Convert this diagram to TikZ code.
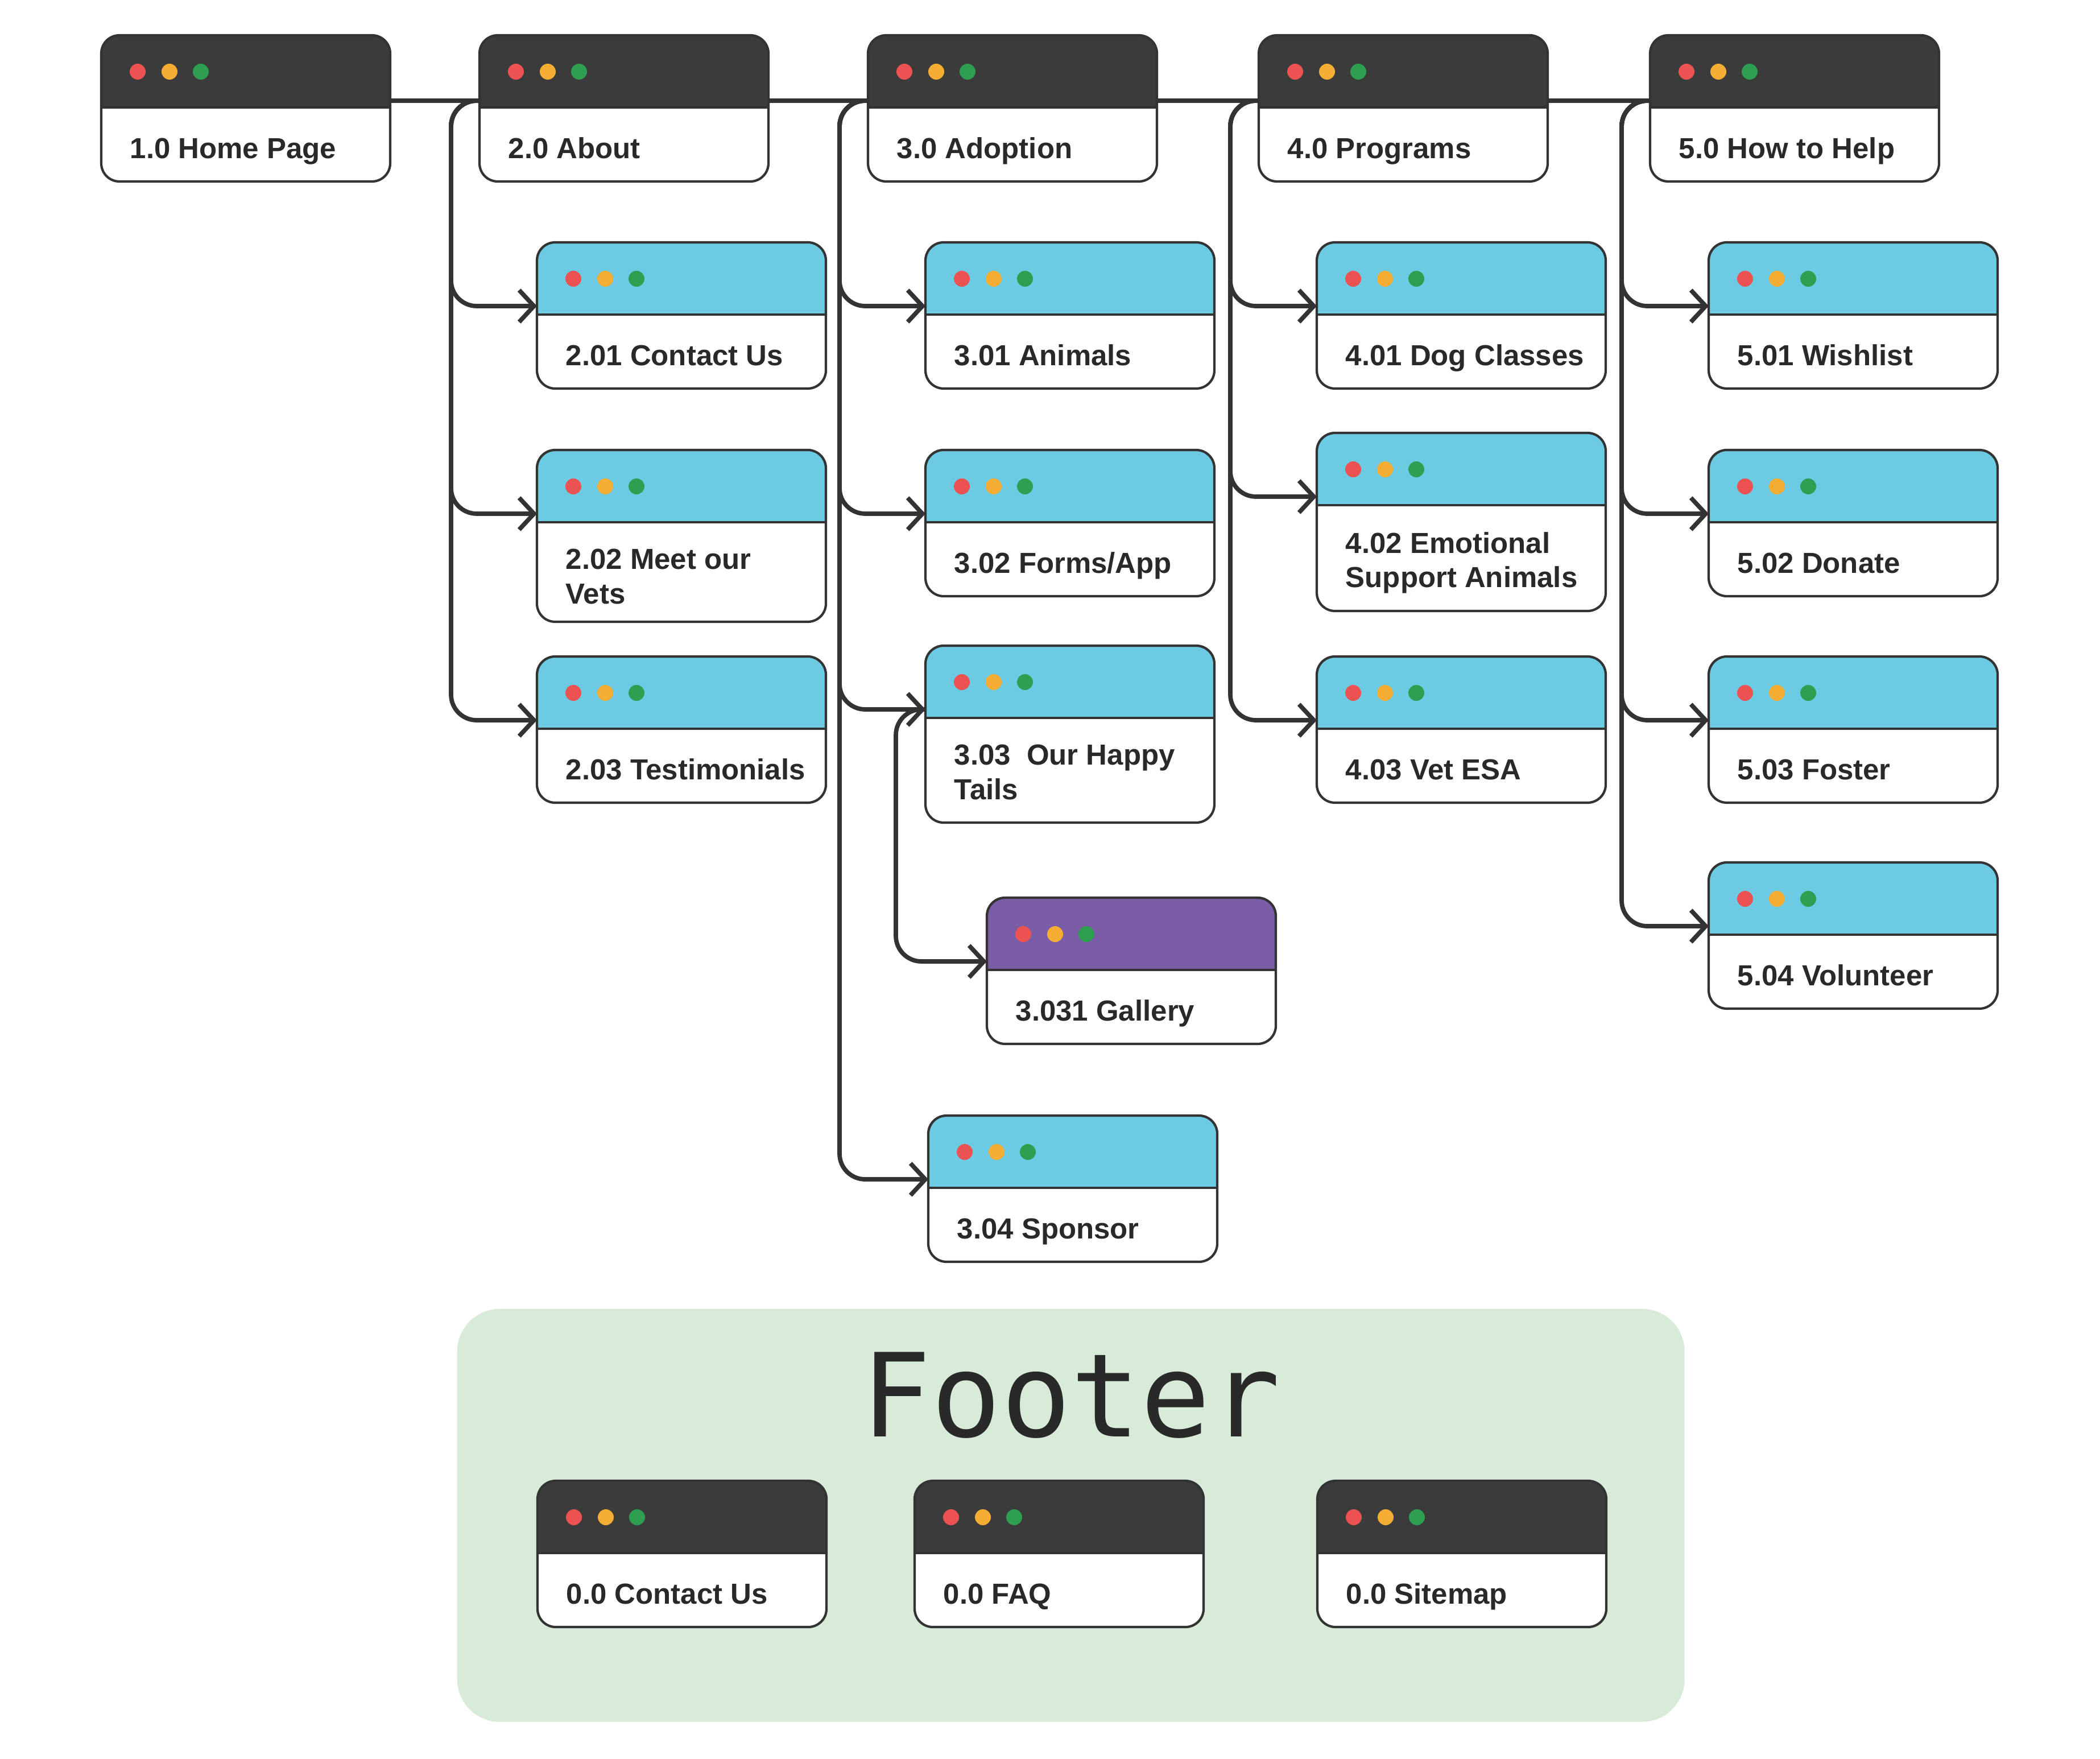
\documentclass[tikz,border=0pt]{standalone}
\usepackage{fontspec}
\setmainfont{Liberation Sans}
\newfontfamily\footerfont{DejaVu Sans Mono}
\usetikzlibrary{arrows.meta,backgrounds,positioning}
\definecolor{ink}{HTML}{333333}
\definecolor{barDark}{HTML}{3B3B3B}
\definecolor{barBlue}{HTML}{6CCAE3}
\definecolor{barPurple}{HTML}{7B5CA6}
\definecolor{footerGreen}{HTML}{D8EBD8}
\definecolor{dotRed}{HTML}{EC5252}
\definecolor{dotOrange}{HTML}{F6AD33}
\definecolor{dotGreen}{HTML}{2E9E50}
\tikzstyle{pagebox}=[rectangle, anchor=north west, minimum width=5.08cm,
  inner sep=0pt, outer sep=0pt]
\tikzstyle{pageframe}=[draw=ink, line width=1.2pt, rounded corners=3.2mm]
\tikzstyle{pagetext}=[anchor=north west, inner sep=0pt, align=left,
  text=ink!80!black, font=\fontsize{14.5pt}{17.3pt}\selectfont\bfseries,
  execute at begin node=\strut]
\tikzstyle{wire}=[ink, line width=2.2pt]
\tikzstyle{branch}=[wire, rounded corners=4.5mm,
  -{Straight Barb[length=2.6mm,width=5.6mm]}]

% one browser window: name, x, y (down), height, bar colour, text
\newcommand{\webpage}[6]{%
  \node[pagebox, minimum height=#4cm] (#1) at (#2,-#3) {};
  \begin{scope}
    \clip[rounded corners=3.2mm] (#1.north west) rectangle (#1.south east);
    \fill[white] (#1.north west) rectangle (#1.south east);
    \fill[#5] (#1.north west) rectangle ([yshift=-12.7mm]#1.north east);
  \end{scope}
  \draw[pageframe] ([yshift=-12.7mm]#1.north west) -- ([yshift=-12.7mm]#1.north east);
  \draw[pageframe] (#1.north west) rectangle (#1.south east);
  \fill[dotRed] ([shift={(6.4mm,-6.4mm)}]#1.north west) circle (1.4mm);
  \fill[dotOrange] ([shift={(12mm,-6.4mm)}]#1.north west) circle (1.4mm);
  \fill[dotGreen] ([shift={(17.5mm,-6.4mm)}]#1.north west) circle (1.4mm);
  \node[pagetext] (#1-text) at ([shift={(5mm,-17.34mm)}]#1.north west) {#6};
}

\begin{document}
\begin{tikzpicture}
  \useasboundingbox (0,0) rectangle (36.92,-30.92);

  % footer panel
  \node[rectangle, anchor=north west, fill=footerGreen, rounded corners=7.5mm,
    minimum width=21.58cm, minimum height=7.26cm, inner sep=0pt] (footer) at (8.03,-23.00) {};
  \node[anchor=base, inner sep=0pt, text=ink!80!black,
    font=\footerfont\fontsize{58pt}{60pt}\selectfont] (footer-title) at (18.83,-25.25) {Footer};

  % top level
  \webpage{home}{1.78}{0.62}{2.57}{barDark}{1.0 Home Page}
  \webpage{about}{8.43}{0.62}{2.57}{barDark}{2.0 About}
  \webpage{adopt}{15.26}{0.62}{2.57}{barDark}{3.0 Adoption}
  \webpage{programs}{22.13}{0.62}{2.57}{barDark}{4.0 Programs}
  \webpage{help}{29.01}{0.62}{2.57}{barDark}{5.0 How to Help}

  % about
  \webpage{contact}{9.44}{4.26}{2.57}{barBlue}{2.01 Contact Us}
  \webpage{vets}{9.44}{7.91}{3.02}{barBlue}{2.02 Meet our\\Vets}
  \webpage{testimonials}{9.44}{11.54}{2.57}{barBlue}{2.03 Testimonials}

  % adoption
  \webpage{animals}{16.27}{4.26}{2.57}{barBlue}{3.01 Animals}
  \webpage{forms}{16.27}{7.91}{2.57}{barBlue}{3.02 Forms/App}
  \webpage{tails}{16.27}{11.35}{3.11}{barBlue}{3.03\ \ Our Happy\\Tails}
  \webpage{gallery}{17.35}{15.78}{2.57}{barPurple}{3.031 Gallery}
  \webpage{sponsor}{16.32}{19.61}{2.57}{barBlue}{3.04 Sponsor}

  % programs
  \webpage{classes}{23.15}{4.26}{2.57}{barBlue}{4.01 Dog Classes}
  \webpage{esa}{23.15}{7.61}{3.13}{barBlue}{4.02 Emotional\\Support Animals}
  \webpage{vetesa}{23.15}{11.54}{2.57}{barBlue}{4.03 Vet ESA}

  % how to help
  \webpage{wishlist}{30.04}{4.26}{2.57}{barBlue}{5.01 Wishlist}
  \webpage{donate}{30.04}{7.91}{2.57}{barBlue}{5.02 Donate}
  \webpage{foster}{30.04}{11.54}{2.57}{barBlue}{5.03 Foster}
  \webpage{volunteer}{30.04}{15.16}{2.57}{barBlue}{5.04 Volunteer}

  % footer pages
  \webpage{fcontact}{9.45}{26.03}{2.57}{barDark}{0.0 Contact Us}
  \webpage{faq}{16.08}{26.03}{2.57}{barDark}{0.0 FAQ}
  \webpage{sitemap}{23.16}{26.03}{2.57}{barDark}{0.0 Sitemap}

  \begin{scope}[on background layer]
    \draw[wire] ([yshift=-11.5mm]home.north east) -- ([yshift=-11.5mm]help.north west);
  \end{scope}

  \draw[branch] ([yshift=-11.5mm]about.north west) -- ++(-5mm,0) |- ([yshift=-11.2mm]contact.north west);
  \draw[branch] ([yshift=-11.5mm]about.north west) -- ++(-5mm,0) |- ([yshift=-11.2mm]vets.north west);
  \draw[branch] ([yshift=-11.5mm]about.north west) -- ++(-5mm,0) |- ([yshift=-11.2mm]testimonials.north west);

  \draw[branch] ([yshift=-11.5mm]adopt.north west) -- ++(-5mm,0) |- ([yshift=-11.2mm]animals.north west);
  \draw[branch] ([yshift=-11.5mm]adopt.north west) -- ++(-5mm,0) |- ([yshift=-11.2mm]forms.north west);
  \draw[branch] ([yshift=-11.5mm]adopt.north west) -- ++(-5mm,0) |- ([yshift=-11.2mm]tails.north west);
  \draw[branch] ([yshift=-11.5mm]adopt.north west) -- ++(-5mm,0) |- ([yshift=-11.2mm]sponsor.north west);
  \draw[branch] ([yshift=-11.2mm]tails.north west) -- ++(-5.2mm,0) |- ([yshift=-11.2mm]gallery.north west);

  \draw[branch] ([yshift=-11.5mm]programs.north west) -- ++(-5mm,0) |- ([yshift=-11.2mm]classes.north west);
  \draw[branch] ([yshift=-11.5mm]programs.north west) -- ++(-5mm,0) |- ([yshift=-11.2mm]esa.north west);
  \draw[branch] ([yshift=-11.5mm]programs.north west) -- ++(-5mm,0) |- ([yshift=-11.2mm]vetesa.north west);

  \draw[branch] ([yshift=-11.5mm]help.north west) -- ++(-5mm,0) |- ([yshift=-11.2mm]wishlist.north west);
  \draw[branch] ([yshift=-11.5mm]help.north west) -- ++(-5mm,0) |- ([yshift=-11.2mm]donate.north west);
  \draw[branch] ([yshift=-11.5mm]help.north west) -- ++(-5mm,0) |- ([yshift=-11.2mm]foster.north west);
  \draw[branch] ([yshift=-11.5mm]help.north west) -- ++(-5mm,0) |- ([yshift=-11.2mm]volunteer.north west);
\end{tikzpicture}
\end{document}
